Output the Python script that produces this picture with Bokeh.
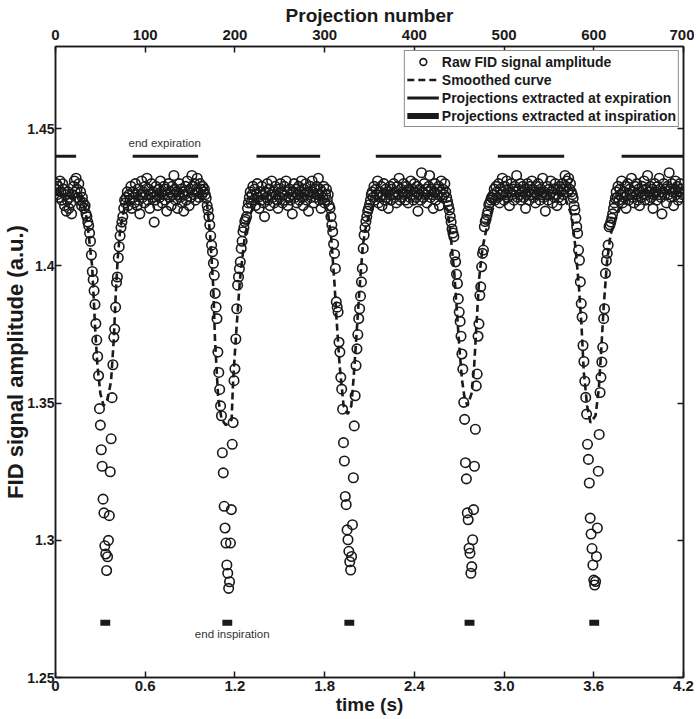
from bokeh.plotting import figure
from bokeh.models import Range1d, LinearAxis, FixedTicker, CustomJSTickFormatter, Label
from bokeh.embed import file_html
from bokeh.resources import INLINE

# ---------------- data ----------------
# raw FID amplitude, one value per projection (0..699), split into plateaus and dips
plateau_1 = [1.428, 1.430, 1.426, 1.429, 1.425, 1.431, 1.427, 1.424, 1.430, 1.428,
             1.422, 1.426, 1.420, 1.424, 1.427, 1.421, 1.425, 1.423, 1.419, 1.426,
             1.429, 1.431, 1.427, 1.432, 1.428, 1.425, 1.430, 1.424, 1.427, 1.422,
             1.425, 1.423, 1.421]
dip_1 = [1.422, 1.419, 1.418, 1.416, 1.4147, 1.412, 1.409, 1.404, 1.398, 1.395,
         1.391, 1.386, 1.379, 1.373, 1.367, 1.360, 1.348, 1.342, 1.333, 1.327,
         1.315, 1.310, 1.298, 1.295, 1.289, 1.294, 1.300, 1.309, 1.325, 1.337,
         1.352, 1.364, 1.374, 1.377, 1.385, 1.394, 1.396, 1.403, 1.407, 1.411,
         1.414, 1.416, 1.418, 1.421, 1.424]
plateau_2 = [1.423, 1.425, 1.427, 1.422, 1.426, 1.424, 1.429, 1.421, 1.427, 1.425,
             1.423, 1.430, 1.426, 1.422, 1.428, 1.424, 1.419, 1.426, 1.431, 1.425,
             1.427, 1.423, 1.429, 1.426, 1.432, 1.424, 1.428, 1.421, 1.426, 1.430,
             1.425, 1.427, 1.416, 1.424, 1.429, 1.426, 1.422, 1.428, 1.425, 1.431,
             1.427, 1.423, 1.426, 1.429, 1.424, 1.428, 1.420, 1.426, 1.430, 1.425,
             1.427, 1.422, 1.429, 1.426, 1.433, 1.428, 1.424, 1.427, 1.421, 1.426,
             1.430, 1.425, 1.428, 1.423, 1.427, 1.420, 1.426, 1.429, 1.424, 1.431,
             1.427, 1.422, 1.428, 1.425, 1.433, 1.429, 1.426, 1.430, 1.424, 1.428,
             1.432, 1.427, 1.425, 1.430, 1.428, 1.426, 1.429, 1.427]
dip_2 = [1.428, 1.426, 1.4247, 1.422, 1.4204, 1.418, 1.415, 1.411, 1.4076, 1.4052,
         1.401, 1.3966, 1.390, 1.385, 1.3808, 1.3686, 1.3612, 1.355, 1.349, 1.3454,
         1.3319, 1.3246, 1.3124, 1.3045, 1.299, 1.291, 1.288, 1.2825, 1.2849, 1.299,
         1.3112, 1.335, 1.3429, 1.3582, 1.3625, 1.3734, 1.3844, 1.393, 1.396, 1.399,
         1.4015, 1.4064, 1.409, 1.4125, 1.414, 1.4162, 1.417, 1.418, 1.421, 1.423]
plateau_3 = [1.425, 1.427, 1.423, 1.426, 1.429, 1.424, 1.428, 1.422, 1.426, 1.430,
             1.425, 1.421, 1.427, 1.424, 1.429, 1.426, 1.423, 1.418, 1.427, 1.425,
             1.430, 1.424, 1.428, 1.422, 1.426, 1.431, 1.425, 1.427, 1.423, 1.429,
             1.426, 1.424, 1.421, 1.428, 1.425, 1.430, 1.427, 1.423, 1.426, 1.429,
             1.424, 1.431, 1.427, 1.422, 1.425, 1.428, 1.424, 1.426, 1.419, 1.427,
             1.430, 1.425, 1.428, 1.423, 1.426, 1.429, 1.424, 1.427, 1.431, 1.425,
             1.422, 1.428, 1.426, 1.430, 1.424, 1.427, 1.420, 1.426, 1.429, 1.425,
             1.431, 1.427, 1.423, 1.428, 1.425, 1.429, 1.426, 1.432, 1.424, 1.428,
             1.421, 1.427, 1.425, 1.429, 1.423, 1.426, 1.428, 1.424, 1.426]
dip_3 = [1.422, 1.421, 1.418, 1.415, 1.4125, 1.408, 1.4046, 1.3991, 1.3869, 1.385,
         1.3832, 1.3722, 1.3686, 1.3594, 1.3551, 1.3478, 1.3356, 1.3289, 1.316, 1.313,
         1.3038, 1.3002, 1.296, 1.2922, 1.2892, 1.2941, 1.3057, 1.3228, 1.3417, 1.3527,
         1.3637, 1.3698, 1.375, 1.3808, 1.3844, 1.389, 1.3942, 1.3991, 1.4064, 1.4113,
         1.414, 1.4162, 1.418, 1.420, 1.421, 1.4223, 1.424, 1.426]
plateau_4 = [1.427, 1.425, 1.429, 1.424, 1.428, 1.426, 1.431, 1.423, 1.427, 1.425,
             1.429, 1.422, 1.426, 1.430, 1.424, 1.428, 1.425, 1.427, 1.421, 1.426,
             1.429, 1.424, 1.428, 1.426, 1.430, 1.425, 1.427, 1.423, 1.429, 1.426,
             1.432, 1.424, 1.428, 1.425, 1.427, 1.430, 1.426, 1.424, 1.429, 1.427,
             1.423, 1.428, 1.425, 1.431, 1.426, 1.428, 1.424, 1.430, 1.427, 1.425,
             1.429, 1.420, 1.426, 1.428, 1.424, 1.434, 1.427, 1.425, 1.430, 1.426,
             1.428, 1.423, 1.427, 1.429, 1.433, 1.425, 1.428, 1.426, 1.421, 1.427,
             1.430, 1.424, 1.428, 1.426, 1.429, 1.422, 1.427, 1.431, 1.425, 1.428,
             1.426, 1.430, 1.427, 1.425]
dip_4 = [1.4235, 1.422, 1.4204, 1.418, 1.416, 1.4135, 1.412, 1.4107, 1.404, 1.4015,
         1.397, 1.3936, 1.388, 1.3832, 1.3798, 1.3744, 1.3679, 1.3624, 1.3503, 1.3441,
         1.3283, 1.3224, 1.310, 1.3075, 1.2971, 1.2953, 1.288, 1.2904, 1.3002, 1.3112,
         1.327, 1.3405, 1.3563, 1.3606, 1.3744, 1.3789, 1.3893, 1.3924, 1.3997, 1.4046,
         1.4058, 1.4143, 1.4162, 1.417, 1.4186, 1.420, 1.4223, 1.423, 1.424, 1.425,
         1.4247]
plateau_5 = [1.426, 1.428, 1.424, 1.429, 1.427, 1.425, 1.430, 1.423, 1.428, 1.426,
             1.432, 1.427, 1.424, 1.429, 1.426, 1.431, 1.425, 1.428, 1.422, 1.427,
             1.430, 1.426, 1.428, 1.424, 1.429, 1.427, 1.433, 1.425, 1.428, 1.426,
             1.430, 1.424, 1.427, 1.429, 1.425, 1.428, 1.421, 1.426, 1.430, 1.427,
             1.424, 1.429, 1.426, 1.431, 1.428, 1.425, 1.427, 1.423, 1.429, 1.426,
             1.430, 1.427, 1.424, 1.428, 1.426, 1.432, 1.425, 1.427, 1.420, 1.426,
             1.429, 1.424, 1.428, 1.426, 1.431, 1.427, 1.423, 1.428, 1.425, 1.430,
             1.426, 1.422, 1.428, 1.425, 1.429, 1.427, 1.424, 1.430, 1.426, 1.428,
             1.433, 1.429, 1.431, 1.427, 1.432, 1.428, 1.430, 1.427]
dip_5 = [1.426, 1.4247, 1.422, 1.4204, 1.4174, 1.4143, 1.4119, 1.4058, 1.4021, 1.3942,
         1.3863, 1.3814, 1.371, 1.3652, 1.358, 1.3521, 1.346, 1.335, 1.3295, 1.3209,
         1.3081, 1.3023, 1.297, 1.291, 1.2855, 1.2837, 1.285, 1.2941, 1.3045, 1.3252,
         1.3386, 1.3539, 1.3594, 1.365, 1.3704, 1.3808, 1.3844, 1.3973, 1.402, 1.4046,
         1.4076, 1.4143, 1.415, 1.416, 1.4174, 1.419, 1.421, 1.423, 1.4247]
plateau_6 = [1.427, 1.425, 1.429, 1.424, 1.428, 1.426, 1.431, 1.423, 1.427, 1.425,
             1.429, 1.421, 1.426, 1.430, 1.424, 1.428, 1.426, 1.432, 1.425, 1.427,
             1.423, 1.429, 1.426, 1.430, 1.424, 1.428, 1.422, 1.427, 1.425, 1.429,
             1.426, 1.431, 1.424, 1.428, 1.426, 1.433, 1.427, 1.424, 1.429, 1.425,
             1.428, 1.421, 1.426, 1.430, 1.427, 1.424, 1.429, 1.426, 1.432, 1.428,
             1.425, 1.419, 1.427, 1.430, 1.426, 1.428, 1.423, 1.429, 1.426, 1.434,
             1.428, 1.425, 1.430, 1.427, 1.422, 1.428, 1.431, 1.426, 1.429, 1.424,
             1.427, 1.430, 1.425, 1.428, 1.426]

raw_amplitude = (plateau_1 + dip_1 + plateau_2 + dip_2 + plateau_3 + dip_3 +
                 plateau_4 + dip_4 + plateau_5 + dip_5 + plateau_6)
projection = list(range(len(raw_amplitude)))

# smoothed curve (projection number, amplitude)
smooth_proj = [0, 10, 20, 27.8, 33.3, 37, 40.8, 42.6, 44.4, 46.7,
               50, 53.7, 58.1, 61.9, 65, 67.2, 69.4, 72.2, 76.7, 83.3,
               100, 120, 140, 155.6, 168.6, 172.2, 175.9, 177.8, 181.4, 185.2,
               190, 196.3, 198.1, 201.9, 205.6, 211.1, 216.7, 225.6, 250, 270,
               294.4, 303.3, 307.4, 311.1, 313, 316.7, 319.7, 321.1, 325.9, 329.7,
               332.2, 335.2, 338.9, 342.6, 346.3, 351.9, 361.1, 380, 400, 427.8,
               437, 440.8, 444.4, 447, 450, 453, 455.6, 459.2, 464.1, 466.7,
               469.2, 472.2, 475.9, 479.7, 483.3, 491.1, 500, 520, 545, 566.7,
               575.2, 579.7, 583.3, 586.3, 588.9, 592.6, 596.3, 601.9, 605.6, 608.6,
               611.1, 614.8, 618.6, 623.3, 630, 638.9, 660, 680, 699]
smooth_amp = [1.426, 1.426, 1.425, 1.425, 1.4204, 1.4113, 1.400, 1.388, 1.376, 1.364,
              1.3535, 1.349, 1.3515, 1.358, 1.3735, 1.390, 1.403, 1.4137, 1.421, 1.425,
              1.426, 1.426, 1.427, 1.426, 1.4236, 1.412, 1.392, 1.373, 1.3515, 1.344,
              1.342, 1.344, 1.359, 1.378, 1.395, 1.411, 1.4186, 1.425, 1.426, 1.426,
              1.425, 1.4205, 1.410, 1.393, 1.382, 1.3637, 1.3539, 1.349, 1.346, 1.349,
              1.3588, 1.3734, 1.3918, 1.4076, 1.415, 1.421, 1.425, 1.427, 1.427, 1.425,
              1.4204, 1.410, 1.3979, 1.3856, 1.371, 1.3588, 1.3527, 1.349, 1.3539, 1.3637,
              1.3783, 1.3954, 1.4064, 1.4125, 1.4174, 1.424, 1.425, 1.427, 1.427, 1.426,
              1.4186, 1.4064, 1.393, 1.3783, 1.3612, 1.349, 1.3429, 1.3454, 1.3551, 1.371,
              1.3856, 1.4015, 1.4113, 1.4162, 1.422, 1.425, 1.427, 1.427, 1.427]

# projections extracted at expiration / inspiration (projection ranges)
expiration_start = [0, 86, 224, 357, 493, 631]
expiration_end = [23, 159, 295, 430, 567, 700]
expiration_level = [1.44, 1.44, 1.44, 1.44, 1.44, 1.44]
inspiration_start = [50, 186, 322, 456, 595]
inspiration_end = [61, 197, 333, 467, 606]
inspiration_level = [1.27, 1.27, 1.27, 1.27, 1.27]

time_ticks = [0, 0.6, 1.2, 1.8, 2.4, 3.0, 3.6, 4.2]
projection_ticks = [0, 100, 200, 300, 400, 500, 600, 700]
amplitude_ticks = [1.25, 1.3, 1.35, 1.4, 1.45]

# ---------------- figure ----------------
INK = "#1a1a1a"
FONT = "Liberation Sans"

p = figure(width=694, height=717, output_backend="svg", toolbar_location=None,
           x_range=Range1d(0, 700), y_range=Range1d(1.25, 1.48),
           x_axis_location=None, y_axis_location=None,
           min_border_left=50, min_border_right=11,
           min_border_top=46, min_border_bottom=40)
p.extra_x_ranges = {"time": Range1d(0, 4.2)}
p.grid.visible = False
p.outline_line_color = INK
p.outline_line_width = 1.5
p.background_fill_color = "white"


def style_axis(ax, label_size="14px"):
    ax.axis_line_color = INK
    ax.axis_line_width = 1.5
    ax.major_tick_line_color = INK
    ax.major_tick_line_width = 1.5
    ax.major_tick_in = 6
    ax.major_tick_out = 0
    ax.minor_tick_line_color = None
    ax.major_label_text_font = FONT
    ax.major_label_text_font_style = "bold"
    ax.major_label_text_font_size = label_size
    ax.major_label_text_color = INK
    ax.axis_label_text_font = FONT
    ax.axis_label_text_font_style = "bold"
    ax.axis_label_text_font_size = "19px"
    ax.axis_label_text_color = INK
    ax.major_label_standoff = 2
    ax.axis_label_standoff = 1


bottom = LinearAxis(x_range_name="time", ticker=FixedTicker(ticks=time_ticks),
                    formatter=CustomJSTickFormatter(code="return tick == 0 ? '0' : tick.toFixed(1);"),
                    axis_label="time (s)")
style_axis(bottom, "15px")
bottom.major_label_standoff = 3
bottom.axis_label_standoff = 0
p.add_layout(bottom, "below")

top = LinearAxis(ticker=FixedTicker(ticks=projection_ticks), axis_label="Projection number")
style_axis(top, "15px")
top.major_label_standoff = 7
top.axis_label_standoff = 1
p.add_layout(top, "above")

left = LinearAxis(ticker=FixedTicker(ticks=amplitude_ticks),
                  formatter=CustomJSTickFormatter(code="return String(Math.round(tick*100)/100);"),
                  axis_label="FID signal amplitude (a.u.)")
style_axis(left, "14px")
left.axis_label_text_font_size = "22px"
left.major_label_standoff = 1
left.axis_label_standoff = -4
p.add_layout(left, "left")

right = LinearAxis(ticker=FixedTicker(ticks=amplitude_ticks),
                   formatter=CustomJSTickFormatter(code="return '';"))
style_axis(right)
right.major_label_standoff = 0
p.add_layout(right, "right")

# ---------------- glyphs ----------------
p.scatter(projection, raw_amplitude, marker="circle", size=9.5, fill_color=None,
          line_color=INK, line_width=1.6, legend_label="Raw FID signal amplitude")
p.line(smooth_proj, smooth_amp, line_dash="7 4", line_width=2.6, line_color=INK,
       legend_label="Smoothed curve")
p.segment(x0=expiration_start, y0=expiration_level, x1=expiration_end, y1=expiration_level,
          line_width=3, line_color=INK, line_cap="butt",
          legend_label="Projections extracted at expiration")
p.segment(x0=inspiration_start, y0=inspiration_level, x1=inspiration_end, y1=inspiration_level,
          line_width=6, line_color=INK, line_cap="butt",
          legend_label="Projections extracted at inspiration")

p.add_layout(Label(x=121.7, y=1.4449, text="end expiration", text_align="center",
                   text_baseline="middle", text_font=FONT,
                   text_font_size="11.5px", text_color="#333333"))
p.add_layout(Label(x=197, y=1.2658, text="end inspiration", text_align="center",
                   text_baseline="middle", text_font=FONT,
                   text_font_size="11.5px", text_color="#333333"))

lg = p.legend[0]
lg.location = "top_right"
lg.margin = 4
lg.padding = 2
lg.spacing = 1
lg.glyph_width = 32
lg.glyph_height = 17
lg.label_height = 17
lg.label_standoff = 3
lg.label_text_font = FONT
lg.label_text_font_style = "bold"
lg.label_text_font_size = "14px"
lg.label_text_color = INK
lg.border_line_color = INK
lg.border_line_width = 1.2
lg.background_fill_alpha = 1.0

open("out.html", "w").write(file_html(p, INLINE))
